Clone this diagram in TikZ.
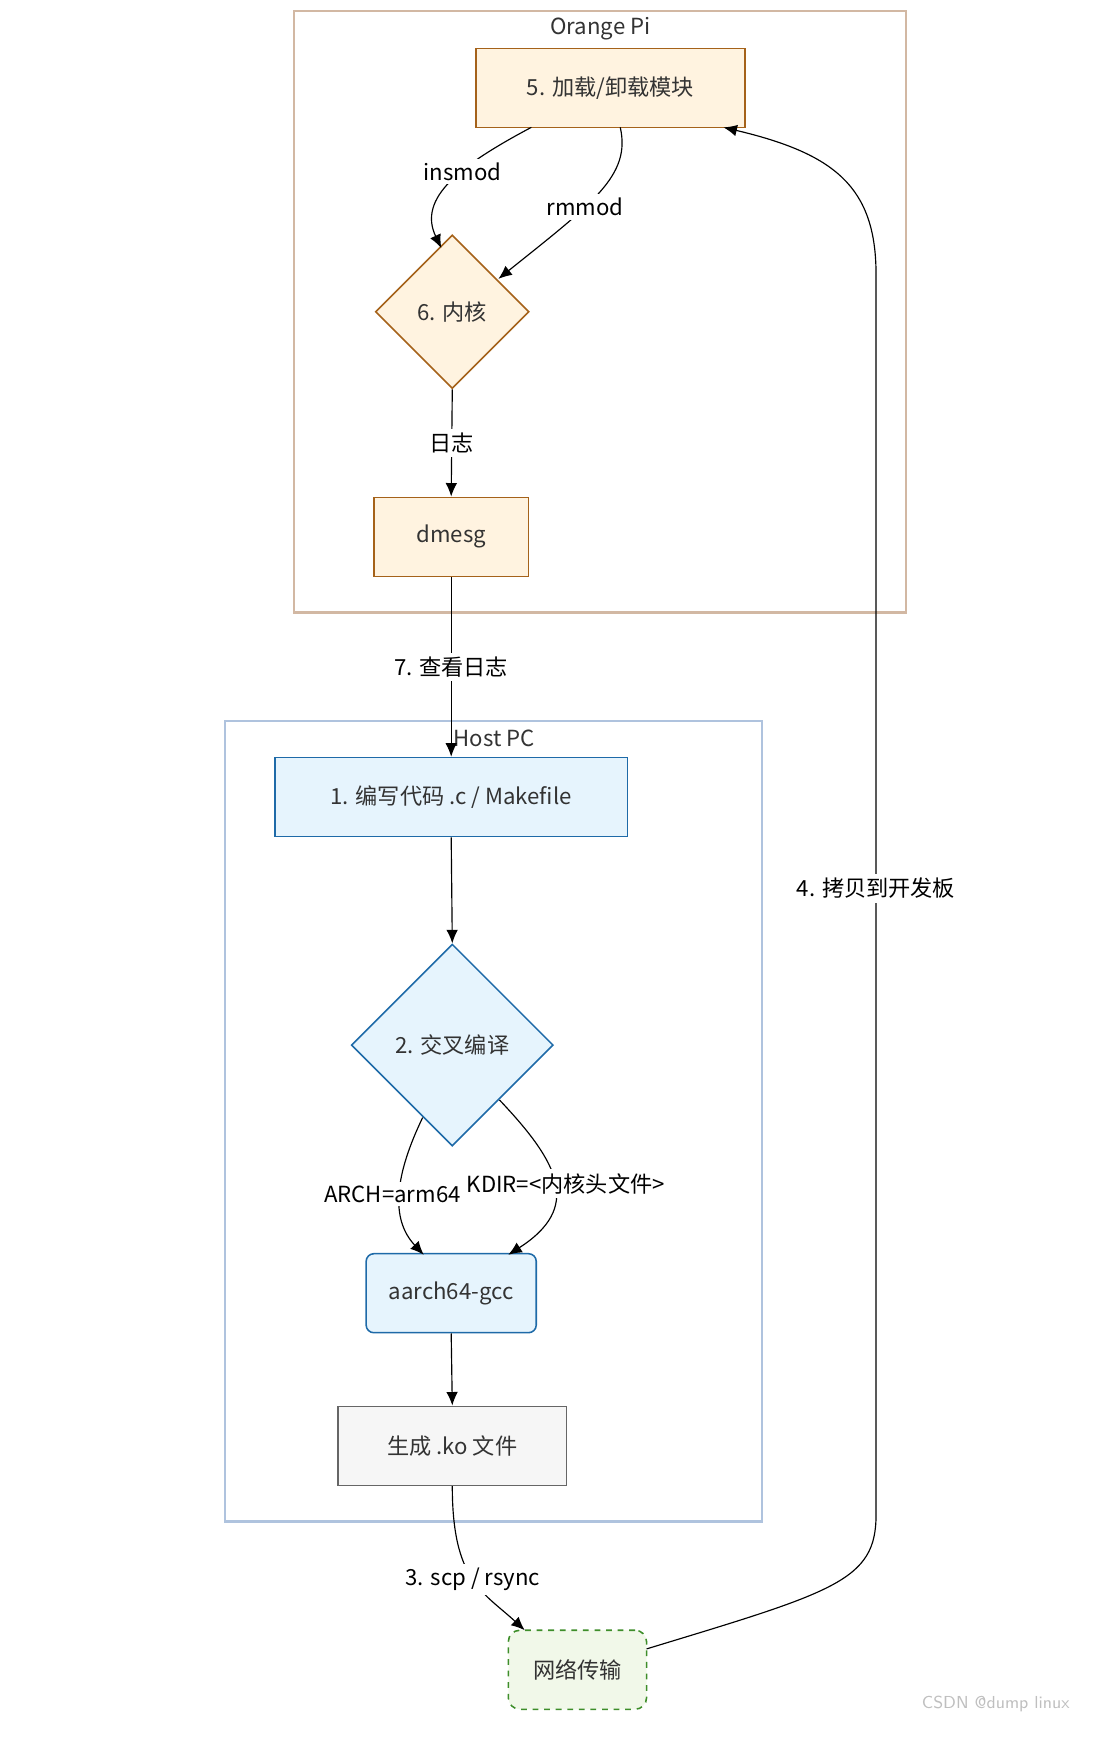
\documentclass[tikz,border=0pt]{standalone}
\usepackage{fontspec}
\setmainfont{Noto Sans CJK SC}
\usepackage{xcolor}
\usetikzlibrary{shapes.geometric, arrows.meta, positioning, calc}
\definecolor{orfill}{HTML}{FFF3E0}
\definecolor{ordraw}{HTML}{A5621A}
\definecolor{blfill}{HTML}{E6F4FD}
\definecolor{bldraw}{HTML}{1E6AA8}
\definecolor{grfill}{HTML}{F1F8E9}
\definecolor{grdraw}{HTML}{3E8E2A}
\definecolor{txt}{HTML}{333333}
\definecolor{opiedge}{HTML}{D2B8A3}
\definecolor{hostedge}{HTML}{AFC3DE}
\begin{document}
\begin{tikzpicture}[x=0.02cm, y=-0.02cm,
    font=\fontsize{11.5}{13}\selectfont, text=txt,
    box/.style={draw, line width=0.8pt, minimum height=1.44cm, align=center},
    orbox/.style={box, fill=orfill, draw=ordraw},
    blbox/.style={box, fill=blfill, draw=bldraw},
    dia/.style={diamond, draw, line width=0.8pt, aspect=1, inner sep=0pt},
    grp/.style={draw, line width=1.2pt},
    lbl/.style={fill=white, inner sep=2pt},
    arrow/.style={-{Latex[length=7pt,width=6pt]}, black, line width=0.6pt}
]
    \useasboundingbox (0,0) rectangle (1000,1585);
    % groups
    \draw[grp, draw=opiedge] (268,10) rectangle (825,558);
    \node (opi) at (547,26) {Orange Pi};
    \draw[grp, draw=hostedge] (205,657) rectangle (694,1386);
    \node (host) at (450,673) {Host PC};

    % Orange Pi
    \node[orbox, minimum width=4.9cm] (load) at (556,80) {5. 加载/卸载模块};
    \node[dia, fill=orfill, draw=ordraw, minimum size=2.8cm] (kernel) at (412,284) {6. 内核};
    \node[orbox, minimum width=2.82cm] (dmesg) at (411,489) {dmesg};

    % Host PC
    \node[blbox, minimum width=6.42cm] (code) at (411,726) {1. 编写代码 .c / Makefile};
    \node[dia, fill=blfill, draw=bldraw, minimum size=3.68cm] (cross) at (412,952) {2. 交叉编译};
    \node[blbox, rounded corners=4pt, minimum width=3.1cm] (gcc) at (411,1178) {aarch64-gcc};
    \node[box, fill=gray!7, draw=gray!80!black, minimum width=4.16cm] (ko) at (412,1317) {生成 .ko 文件};
    \node[box, fill=grfill, draw=grdraw, dashed, rounded corners=6pt, minimum width=2.52cm] (net) at (526,1521) {网络传输};

    \coordinate (up) at (798,250);

    % edges
    \draw[arrow] (484,116) .. controls (420,150) and (380,180) .. (402,226)
        node[lbl, pos=0.4] {insmod};
    \draw[arrow] (565,116) .. controls (575,160) and (540,185) .. (454,254)
        node[lbl, pos=0.6] {rmmod};
    \draw[arrow] (kernel.south) -- (dmesg.north) node[lbl, midway] {日志};
    \draw[arrow] (dmesg.south) -- (code.north) node[lbl, pos=0.5] {7. 查看日志};
    \draw[arrow] (code.south) -- (cross.north);
    \draw[arrow] (385,1018) .. controls (360,1070) and (355,1110) .. (386,1143)
        node[lbl, pos=0.5, xshift=-4pt] {ARCH=arm64};
    \draw[arrow] (455,1002) .. controls (510,1060) and (530,1100) .. (463,1143)
        node[lbl, pos=0.5, xshift=6pt] {KDIR=<内核头文件>};
    \draw[arrow] (gcc.south) -- (ko.north);
    \draw[arrow] (ko.south) .. controls (412,1440) and (440,1450) .. (478,1485)
        node[lbl, pos=0.5] {3. scp / rsync};
    \draw[arrow] (589,1502) .. controls (760,1450) and (798,1440) .. (798,1380)
        -- (up) node[lbl, pos=0.505] {4. 拷贝到开发板}
        .. controls (798,170) and (760,140) .. (659,116);

    \node[text=gray!50, font=\fontsize{9}{10}\selectfont\sffamily] (mark) at (907,1552) {CSDN @dump linux};
\end{tikzpicture}
\end{document}
